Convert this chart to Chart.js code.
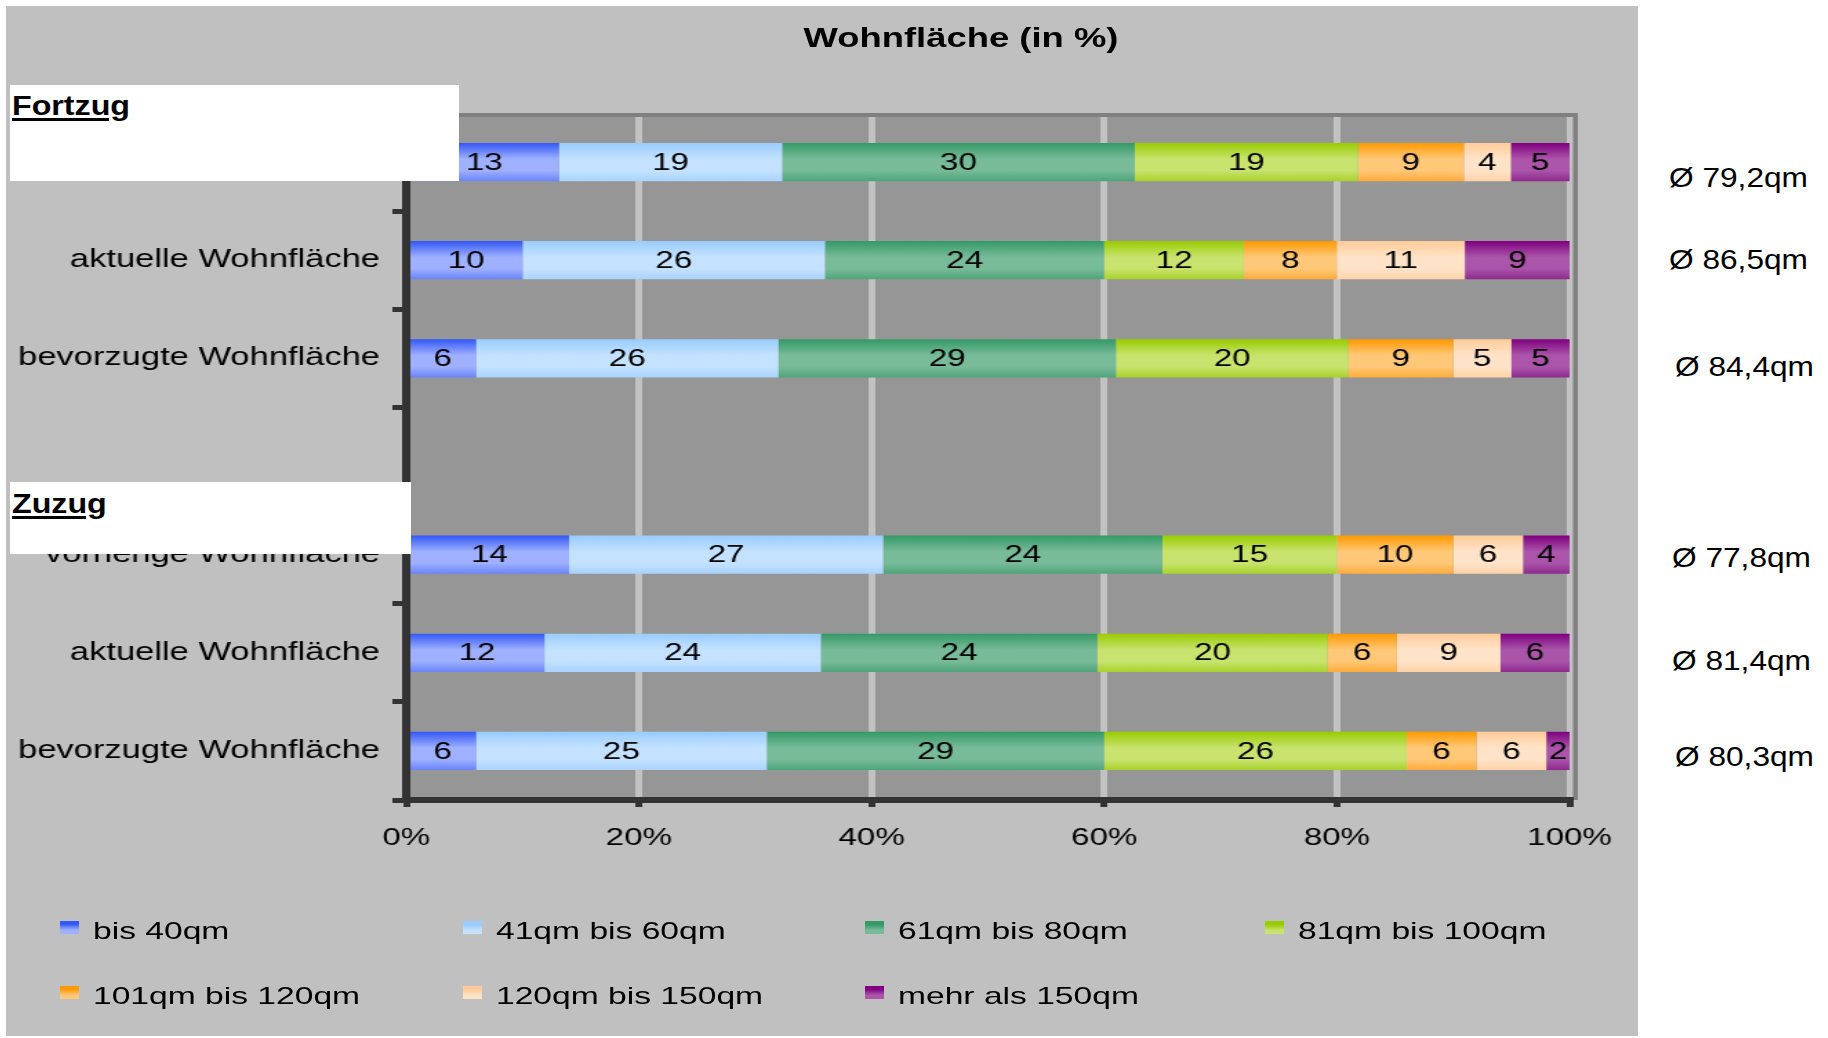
<!DOCTYPE html>
<html lang="de">
<head>
<meta charset="utf-8">
<title>Wohnfläche (in %)</title>
<script src="https://cdn.jsdelivr.net/npm/chart.js@4.4.1/dist/chart.umd.min.js"></script>
<style>
  html, body { margin: 0; padding: 0; background: #fff; }
  body { width: 1828px; height: 1038px; position: relative; overflow: hidden;
         font-family: "Liberation Sans", Arial, sans-serif; color: #000; }
  #panel { position: absolute; left: 6px; top: 6px; width: 1632px; height: 1030px; background: #c0c0c0; }
  #chart { position: absolute; left: 0; top: 0; transform: scaleX(1.38); transform-origin: 0 0; }
  #title { position: absolute; left: 461px; top: 21px; width: 1000px; text-align: center;
           font-weight: bold; font-size: 28px; line-height: 34px; white-space: nowrap;
           transform: scaleX(1.3); transform-origin: 50% 50%; }
  .groupbox { position: absolute; background: #fff; }
  .groupbox span { position: absolute; left: 2px; font-weight: bold; font-size: 28px; line-height: 34px;
                   text-decoration: underline; text-decoration-thickness: 3px; text-underline-offset: 3px;
                   white-space: nowrap; transform: scaleX(1.15); transform-origin: 0 50%; }
  .avg { position: absolute; font-size: 28px; line-height: 34px; white-space: nowrap;
         transform: scaleX(1.13); transform-origin: 0 50%; }
  .lg-swatch { position: absolute; width: 19px; height: 13px; }
  .lg-text { position: absolute; font-size: 24px; line-height: 28px; white-space: nowrap;
             transform: scaleX(1.4); transform-origin: 0 50%; }
</style>
</head>
<body>
<div id="panel"><canvas id="chart" width="1183" height="1030"></canvas></div>
<div id="title">Wohnfläche (in %)</div>
<div class="groupbox" style="left:10px; top:85px; width:449px; height:96px;"><span style="top:4px;">Fortzug</span></div>
<div class="groupbox" style="left:10px; top:482px; width:401px; height:72px;"><span style="top:5px;">Zuzug</span></div>
<div id="averages"></div>
<div id="legend"></div>

<script>
// ========== データ ==========
const categories = [
  "vorherige Wohnfläche", "aktuelle Wohnfläche", "bevorzugte Wohnfläche", "",
  "vorherige Wohnfläche", "aktuelle Wohnfläche", "bevorzugte Wohnfläche"
];
const seriesNames = [
  "bis 40qm", "41qm bis 60qm", "61qm bis 80qm", "81qm bis 100qm",
  "101qm bis 120qm", "120qm bis 150qm", "mehr als 150qm"
];
const bis40    = [13, 10, 6, null, 14, 12, 6];
const von41    = [19, 26, 26, null, 27, 24, 25];
const von61    = [30, 24, 29, null, 24, 24, 29];
const von81    = [19, 12, 20, null, 15, 20, 26];
const von101   = [9, 8, 9, null, 10, 6, 6];
const von120   = [4, 11, 5, null, 6, 9, 6];
const mehr150  = [5, 9, 5, null, 4, 6, 2];
const averages = ["Ø 79,2qm", "Ø 86,5qm", "Ø 84,4qm", "", "Ø 77,8qm", "Ø 81,4qm", "Ø 80,3qm"];
const xTickValues = [0, 20, 40, 60, 80, 100];

// ========== スタイル ==========
// [oben, mitte, unten]
const seriesColors = [
  ["#3358f6", "#9eb0ff", "#6a84f8"],
  ["#99ccff", "#c4e2ff", "#a9d3ff"],
  ["#339966", "#78bb99", "#4ea57a"],
  ["#99cc00", "#c9e36f", "#a8d22a"],
  ["#ff9900", "#ffc878", "#ffab3a"],
  ["#ffcc99", "#ffe3c8", "#ffd3a8"],
  ["#800080", "#aa55aa", "#8f2a8f"]
];
const avgBoxes = [[1669, 161], [1669, 243], [1675, 350], null, [1672, 541], [1672, 644], [1675, 740]];
const BAR_PERCENT = 0.39;
const FONT = '"Liberation Sans", Arial, sans-serif';

Chart.defaults.font.family = FONT;
Chart.defaults.color = "#000";

// ========== 100%-Normierung ==========
const seriesValues = [bis40, von41, von61, von81, von101, von120, mehr150];
const rowSums = categories.map((c, i) =>
  seriesValues.reduce((s, arr) => s + (arr[i] || 0), 0));
function toPercent(arr) {
  return arr.map((v, i) => v == null ? null : v / rowSums[i] * 100);
}

// ========== グラデーション ==========
function barGradient(context, colors) {
  const chart = context.chart;
  const yScale = chart.scales.y;
  if (!chart.chartArea || !yScale || context.dataIndex == null) return colors[1];
  const yc = yScale.getPixelForValue(context.dataIndex);
  const h = (yScale.bottom - yScale.top) / categories.length * BAR_PERCENT;
  const g = chart.ctx.createLinearGradient(0, yc - h / 2, 0, yc + h / 2);
  g.addColorStop(0, colors[0]);
  g.addColorStop(0.42, colors[1]);
  g.addColorStop(0.72, colors[1]);
  g.addColorStop(1, colors[2]);
  return g;
}

// ========== プラグイン ==========
const plotAreaPlugin = {
  id: "plotArea",
  beforeDraw(chart) {
    const {ctx, chartArea: a} = chart;
    ctx.save();
    ctx.fillStyle = "#969696";
    ctx.fillRect(a.left, a.top, a.right - a.left, a.bottom - a.top);
    ctx.restore();
  },
  beforeDatasetsDraw(chart) {
    const {ctx, chartArea: a} = chart;
    ctx.save();
    ctx.fillStyle = "#808080";
    ctx.fillRect(a.left, a.top, a.right - a.left + 6, 4);
    ctx.fillRect(a.right + 2.5, a.top, 3.5, a.bottom - a.top);
    ctx.restore();
  }
};

const valueLabelPlugin = {
  id: "valueLabels",
  afterDatasetsDraw(chart) {
    const ctx = chart.ctx;
    ctx.save();
    ctx.font = "24px " + FONT;
    ctx.fillStyle = "#000";
    ctx.textAlign = "center";
    ctx.textBaseline = "middle";
    chart.data.datasets.forEach((ds, i) => {
      chart.getDatasetMeta(i).data.forEach((bar, j) => {
        const v = seriesValues[i][j];
        if (v == null) return;
        ctx.fillText(String(v), (bar.x + bar.base) / 2, bar.y + 1);
      });
    });
    ctx.restore();
  }
};

// ========== グラフ描画 ==========
const datasets = seriesNames.map((name, i) => ({
  label: name,
  data: toPercent(seriesValues[i]),
  backgroundColor: (context) => barGradient(context, seriesColors[i]),
  borderWidth: 0,
  categoryPercentage: 1,
  barPercentage: BAR_PERCENT
}));

const chart = new Chart(document.getElementById("chart").getContext("2d"), {
  type: "bar",
  data: { labels: categories, datasets: datasets },
  plugins: [plotAreaPlugin, valueLabelPlugin],
  options: {
    indexAxis: "y",
    responsive: false,
    animation: false,
    devicePixelRatio: 1,
    layout: { padding: { left: 0, top: 107, right: 50, bottom: 176 } },
    plugins: {
      legend: { display: false },
      title: { display: false },
      tooltip: { enabled: false }
    },
    scales: {
      x: {
        stacked: true,
        min: 0,
        max: 100,
        afterBuildTicks(scale) { scale.ticks = xTickValues.map(v => ({ value: v })); },
        afterFit(scale) { scale.height = 60; },
        ticks: { padding: 17, font: { size: 24 }, color: "#000", callback: v => v + "%" },
        grid: { color: "#c2c2c2", lineWidth: 5, tickColor: "#333", tickWidth: 5, tickLength: 7 },
        border: { color: "#333", width: 6, z: 1 }
      },
      y: {
        stacked: true,
        afterFit(scale) { scale.width = 290; },
        ticks: { autoSkip: false, padding: 9, font: { size: 25 }, color: "#000" },
        grid: { drawOnChartArea: false, offset: true, color: "#333", tickColor: "#333",
                tickWidth: 5, tickLength: 10 },
        border: { color: "#333", width: 6, z: 1 }
      }
    }
  }
});

// ========== Durchschnitt (Textfelder) ==========
const avgBox = document.getElementById("averages");
averages.forEach((txt, i) => {
  if (!txt) return;
  const d = document.createElement("div");
  d.className = "avg";
  d.style.left = avgBoxes[i][0] + "px";
  d.style.top = avgBoxes[i][1] + "px";
  d.textContent = txt;
  avgBox.appendChild(d);
});

// ========== 凡例 ==========
const legendBox = document.getElementById("legend");
const legendCols = [60, 463, 865, 1265];
const legendRows = [921, 986];
chart.data.datasets.forEach((ds, i) => {
  const col = legendCols[i % 4];
  const row = legendRows[Math.floor(i / 4)];
  const c = seriesColors[i];
  const sw = document.createElement("div");
  sw.className = "lg-swatch";
  sw.style.left = col + "px";
  sw.style.top = row + "px";
  sw.style.background = `linear-gradient(to bottom, ${c[0]} 0%, ${c[0]} 25%, ${c[2]} 45%, ${c[1]} 70%, ${c[1]} 100%)`;
  const tx = document.createElement("div");
  tx.className = "lg-text";
  tx.style.left = (col + 33) + "px";
  tx.style.top = (row - 4) + "px";
  tx.textContent = ds.label;
  legendBox.appendChild(sw);
  legendBox.appendChild(tx);
});
</script>
</body>
</html>
